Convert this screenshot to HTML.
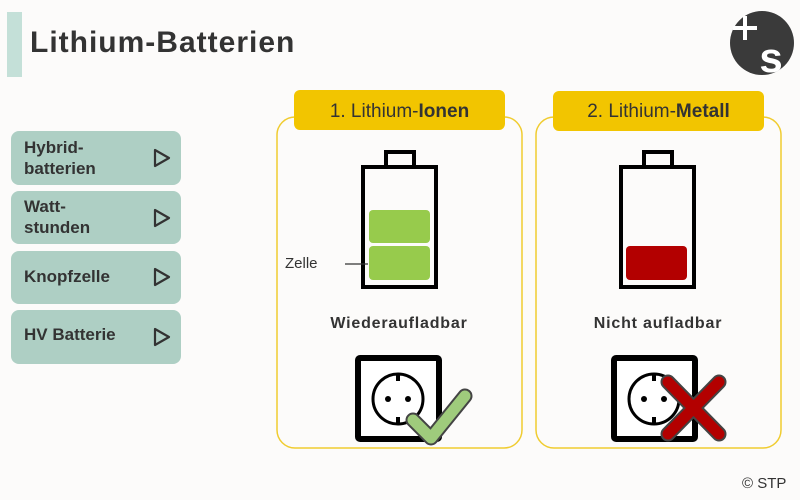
<!DOCTYPE html>
<html><head><meta charset="utf-8"><style>
html,body{margin:0;padding:0;background:#fcfbfa;}
body{width:800px;height:500px;overflow:hidden;}
svg{display:block}
</style></head><body>
<svg width="800" height="500" viewBox="0 0 800 500" xmlns="http://www.w3.org/2000/svg" font-family="Liberation Sans, sans-serif">
<rect width="800" height="500" fill="#fcfbfa"/>
<rect x="7" y="12" width="15" height="65" fill="#c4e0d8"/>
<text x="30" y="52" font-size="30" font-weight="bold" fill="#333" letter-spacing="1">Lithium-Batterien</text>
<circle cx="762" cy="43" r="32" fill="#3a3a3a"/>
<path d="M745 16 V40 M733 28 H757" stroke="#fff" stroke-width="4"/>
<text x="771" y="72" font-size="42" font-weight="bold" fill="#fff" text-anchor="middle">s</text>

<g font-size="17" font-weight="bold" fill="#333">
<rect x="11" y="131" width="170" height="54" rx="8" fill="#aecfc4"/>
<text x="24" y="153">Hybrid-</text><text x="24" y="174">batterien</text>
<rect x="11" y="191" width="170" height="53" rx="8" fill="#aecfc4"/>
<text x="24" y="212">Watt-</text><text x="24" y="233">stunden</text>
<rect x="11" y="251" width="170" height="53" rx="8" fill="#aecfc4"/>
<text x="24" y="282">Knopfzelle</text>
<rect x="11" y="310" width="170" height="54" rx="8" fill="#aecfc4"/>
<text x="24" y="340">HV Batterie</text>
</g>
<g fill="none" stroke="#333" stroke-width="2.2" stroke-linejoin="round">
<path d="M155 150 L169 158 L155 166 Z"/>
<path d="M155 210 L169 218 L155 226 Z"/>
<path d="M155 269 L169 277 L155 285 Z"/>
<path d="M155 329 L169 337 L155 345 Z"/>
</g>

<rect x="277" y="117" width="245" height="331" rx="18" fill="none" stroke="#f0cc30" stroke-width="1.5"/>
<rect x="536" y="117" width="245" height="331" rx="18" fill="none" stroke="#f0cc30" stroke-width="1.5"/>
<rect x="294" y="90" width="211" height="40" rx="6" fill="#f2c500"/>
<rect x="553" y="91" width="211" height="40" rx="6" fill="#f2c500"/>
<text x="399.5" y="117" font-size="19" fill="#333" text-anchor="middle">1. Lithium-<tspan font-weight="bold">Ionen</tspan></text>
<text x="658.5" y="117" font-size="19" fill="#333" text-anchor="middle">2. Lithium-<tspan font-weight="bold">Metall</tspan></text>

<g fill="none" stroke="#000" stroke-width="4">
<rect x="363" y="167" width="73" height="120"/>
<rect x="386" y="152" width="28" height="15"/>
<rect x="621" y="167" width="73" height="120"/>
<rect x="644" y="152" width="28" height="15"/>
</g>
<rect x="369" y="210" width="61" height="33" rx="4" fill="#97cb4c"/>
<rect x="369" y="246" width="61" height="34" rx="4" fill="#97cb4c"/>
<rect x="626" y="246" width="61" height="34" rx="4" fill="#b30000"/>
<text x="285" y="268" font-size="15" fill="#333">Zelle</text>
<line x1="345" y1="264" x2="368" y2="264" stroke="#333" stroke-width="1.2"/>

<text x="399" y="328" font-size="16" font-weight="bold" fill="#333" text-anchor="middle" letter-spacing="0.8">Wiederaufladbar</text>
<text x="658" y="328" font-size="16" font-weight="bold" fill="#333" text-anchor="middle" letter-spacing="0.8">Nicht aufladbar</text>

<g>
<rect x="358" y="358" width="81" height="81" rx="2" fill="#fff" stroke="#000" stroke-width="6"/>
<circle cx="398" cy="399" r="25" fill="none" stroke="#000" stroke-width="3"/>
<rect x="396" y="373" width="4" height="8" fill="#000"/><rect x="396" y="417" width="4" height="8" fill="#000"/>
<circle cx="388" cy="399" r="3" fill="#000"/><circle cx="408" cy="399" r="3" fill="#000"/>
<path d="M413 420 L431 438 L465 396" fill="none" stroke="#444" stroke-width="15" stroke-linecap="round" stroke-linejoin="round"/>
<path d="M413 420 L431 438 L465 396" fill="none" stroke="#9fcb7c" stroke-width="11" stroke-linecap="round" stroke-linejoin="round"/>
</g>
<g>
<rect x="614" y="358" width="81" height="81" rx="2" fill="#fff" stroke="#000" stroke-width="6"/>
<circle cx="654" cy="399" r="25" fill="none" stroke="#000" stroke-width="3"/>
<rect x="652" y="373" width="4" height="8" fill="#000"/><rect x="652" y="417" width="4" height="8" fill="#000"/>
<circle cx="644" cy="399" r="3" fill="#000"/><circle cx="664" cy="399" r="3" fill="#000"/>
<path d="M668 382 L719 434 M719 382 L668 434" fill="none" stroke="#444" stroke-width="15" stroke-linecap="round"/>
<path d="M668 382 L719 434 M719 382 L668 434" fill="none" stroke="#b30000" stroke-width="11" stroke-linecap="round"/>
</g>

<text x="742" y="488" font-size="15" fill="#333">© STP</text>
</svg>
</body></html>
